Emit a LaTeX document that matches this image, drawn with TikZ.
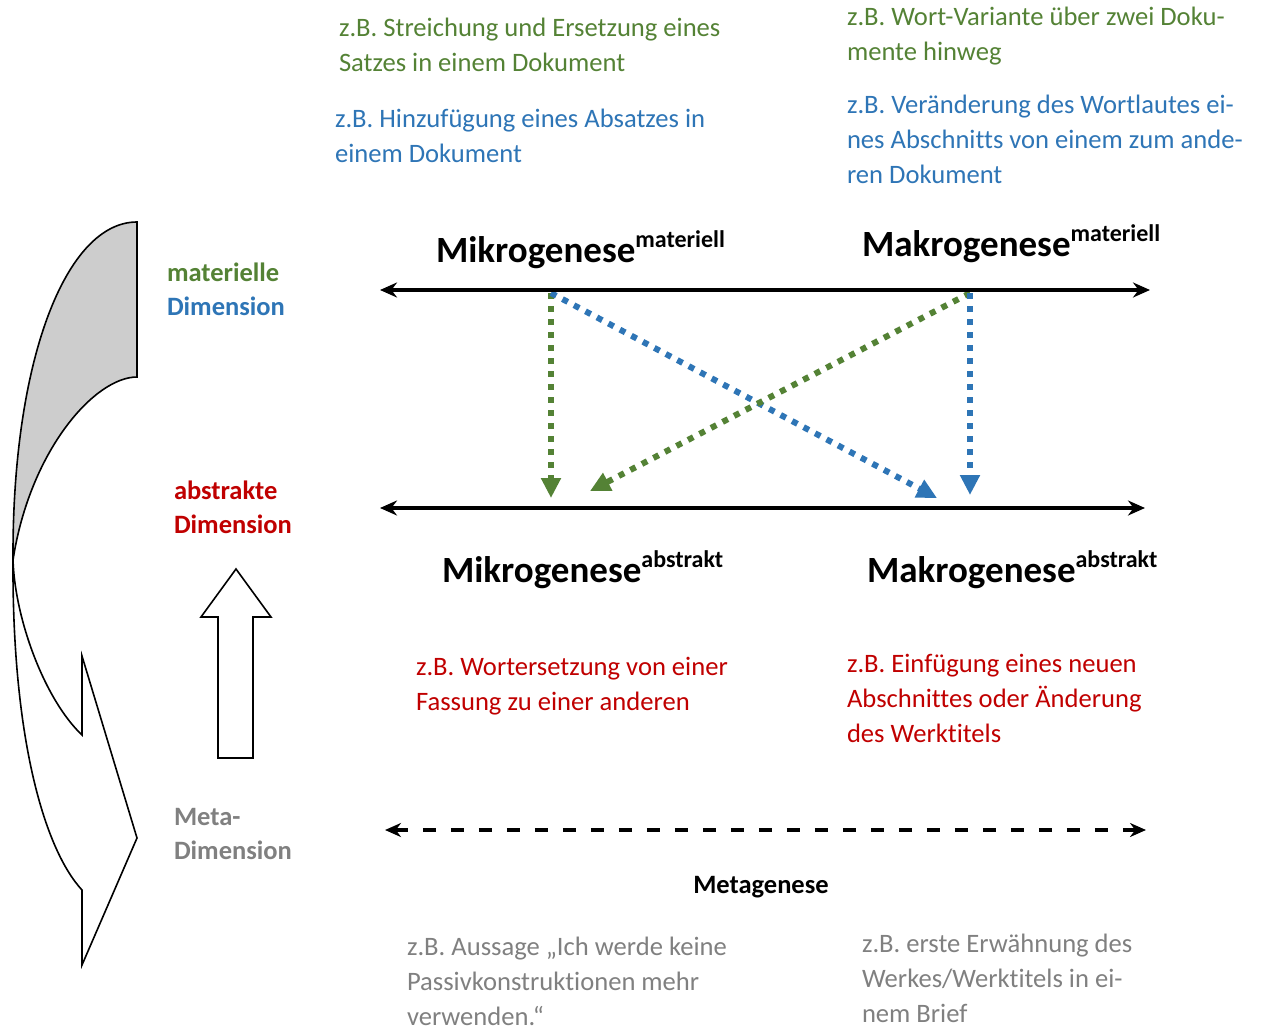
\documentclass[tikz,border=0pt]{standalone}
\usepackage{fontspec}
\setmainfont{Carlito}[Ligatures=NoCommon]
\usetikzlibrary{arrows.meta}
\definecolor{matgreen}{HTML}{548235}
\definecolor{matblue}{HTML}{2E75B6}
\definecolor{absred}{HTML}{C00000}
\definecolor{metagray}{HTML}{808080}
\definecolor{backgray}{HTML}{CDCDCD}
\newcommand{\genesesup}[1]{\raisebox{15pt}{\fontsize{24}{24}\selectfont #1}}

\begin{document}
\begin{tikzpicture}[
x=1pt, y=-1pt,
every node/.style={inner sep=0pt, outer sep=0pt},
example/.style={anchor=base west, align=left, font=\fontsize{26.6}{35}\selectfont},
dimlabel/.style={anchor=base west, align=left, font=\fontsize{26.5}{34.5}\selectfont\bfseries},
genese/.style={anchor=base west, font=\fontsize{37}{44}\selectfont\bfseries},
axis/.style={line width=3.3pt, {Stealth[length=17pt,width=15pt]}-{Stealth[length=17pt,width=15pt]}},
metaaxis/.style={line width=4pt, dash pattern=on 13pt off 15pt, {Stealth[length=16pt,width=14pt]}-{Stealth[length=16pt,width=14pt]}},
transfer/.style={line width=6pt, dash pattern=on 6pt off 7pt, -{Triangle[length=20pt,width=19pt]}},
outline/.style={draw=black, line width=1.6pt, line join=miter}
]
\useasboundingbox (0,0) rectangle (1263,1032);

\draw[outline, fill=white] (13,560) .. controls (12,740) and (45,850) .. (82,890)
  -- (82,965) -- (137,838) -- (82,656) -- (82,735)
  .. controls (45,700) and (15,620) .. (13,560) -- cycle;
\draw[outline, fill=backgray] (137,222) .. controls (66,222) and (12,360) .. (13,560)
  .. controls (30,450) and (95,377) .. (137,377) -- cycle;
\draw[outline, fill=white] (218,758) -- (218,617) -- (201,617) -- (236,569)
  -- (271,617) -- (253,617) -- (253,758) -- cycle;

\node[dimlabel] (matDim) at (167,315.5) {\textcolor{matgreen}{materielle}\\\textcolor{matblue}{Dimension}};
\node[dimlabel, text=absred] (absDim) at (174,533.5) {abstrakte\\Dimension};
\node[dimlabel, text=metagray] (metaDim) at (174,859.5) {Meta-\\Dimension};

\node[example, text=matgreen] (streichung) at (339,72) {z.B. Streichung und Ersetzung eines\\Satzes in einem Dokument};
\node[example, text=matblue] (hinzufuegung) at (335,163) {z.B. Hinzufügung eines Absatzes in\\einem Dokument};
\node[example, text=matgreen] (wortvariante) at (847,61) {z.B. Wort-Variante über zwei Doku-\\mente hinweg};
\node[example, text=matblue] (wortlaut) at (847,184) {z.B. Veränderung des Wortlautes ei-\\nes Abschnitts von einem zum ande-\\ren Dokument};

\node[genese] (mikroMat) at (436,262) {Mikrogenese\genesesup{materiell}};
\node[genese] (makroMat) at (862,257) {Makrogenese\genesesup{materiell}};
\node[genese] (mikroAbs) at (442,582) {Mikrogenese\genesesup{abstrakt}};
\node[genese] (makroAbs) at (867,582) {Makrogenese\genesesup{abstrakt}};

\coordinate (matL) at (380,290);
\coordinate (matR) at (1150,290);
\coordinate (absL) at (380,508);
\coordinate (absR) at (1145,508);
\coordinate (metaL) at (385,830);
\coordinate (metaR) at (1146,830);
\coordinate (mikroM) at (551,293);
\coordinate (makroM) at (970,293);
\coordinate (mikroA) at (551,498);
\coordinate (makroA) at (970,495);
\coordinate (kreuzG) at (590,491);
\coordinate (kreuzB) at (937,498);

\draw[transfer, matgreen] (mikroM) -- (mikroA);
\draw[transfer, matblue] (mikroM) -- (kreuzB);
\draw[transfer, matgreen] (makroM) -- (kreuzG);
\draw[transfer, matblue] (makroM) -- (makroA);

\draw[axis] (matL) -- (matR);
\draw[axis] (absL) -- (absR);
\draw[metaaxis] (metaL) -- (metaR);

\node[example, text=absred] (wortersetzung) at (416,710) {z.B. Wortersetzung von einer\\Fassung zu einer anderen};
\node[example, text=absred] (einfuegung) at (847,742) {z.B. Einfügung eines neuen\\Abschnittes oder Änderung\\des Werktitels};

\node[dimlabel, anchor=base] (metagenese) at (761,893) {Metagenese};
\node[example, text=metagray] (aussage) at (407,1025) {z.B. Aussage „Ich werde keine\\Passivkonstruktionen mehr\\verwenden.“};
\node[example, text=metagray] (erwaehnung) at (862,1022) {z.B. erste Erwähnung des\\Werkes/Werktitels in ei-\\nem Brief};
\end{tikzpicture}
\end{document}
